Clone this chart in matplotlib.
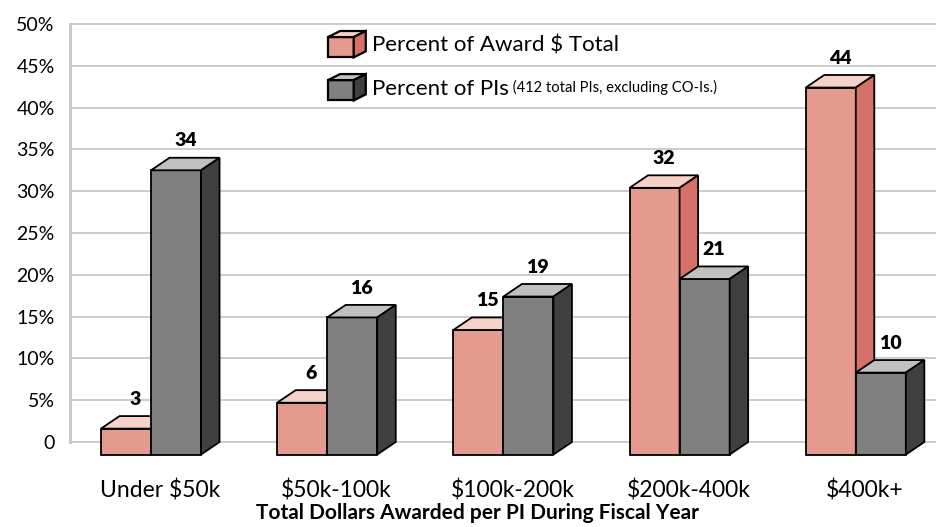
import matplotlib
matplotlib.use("Agg")
import matplotlib.pyplot as plt
from matplotlib.patches import Polygon, Patch
from matplotlib.legend_handler import HandlerBase

plt.rcParams['font.family'] = ['Lato', 'DejaVu Sans']

# data
categories = ['Under $50k', '$50k-100k', '$100k-200k', '$200k-400k', '$400k+']
award_pct = [3.1, 6.2, 14.9, 31.9, 43.9]
pi_pct = [34.0, 16.4, 18.9, 21.0, 9.8]

pink = ('#E49A8C', '#F6D1C8', '#D6706A')   # front, top, side
grey = ('#808080', '#C0C0C0', '#404040')

W = 0.284     # bar width (category units)
DX = 0.105    # depth offset, x
DY = 1.5      # depth offset, y (percent)


def cube(ax, x0, v, colors):
    front, top, side = colors
    kw = dict(edgecolor='black', lw=1.3, joinstyle='miter', zorder=3)
    ax.add_patch(Polygon([(x0, -DY), (x0 + W, -DY), (x0 + W, v - DY), (x0, v - DY)],
                         facecolor=front, **kw))
    ax.add_patch(Polygon([(x0, v - DY), (x0 + W, v - DY), (x0 + W + DX, v), (x0 + DX, v)],
                         facecolor=top, **kw))
    ax.add_patch(Polygon([(x0 + W, -DY), (x0 + W + DX, 0), (x0 + W + DX, v), (x0 + W, v - DY)],
                         facecolor=side, **kw))
    ax.annotate(f'{round(v)}', xy=(x0 + W / 2 + DX / 2, v), xytext=(0, 6),
                textcoords='offset points', ha='center', va='bottom',
                fontsize=14, fontweight='heavy')


class CubeHandler(HandlerBase):
    def __init__(self, colors):
        super().__init__()
        self.colors = colors

    def create_artists(self, legend, orig_handle, xdescent, ydescent, width, height,
                       fontsize, trans):
        x0, y0 = -xdescent, -ydescent
        fw, fh = width * 0.68, height * 0.77
        ddx, ddy = width - fw, height - fh
        front, top, side = self.colors
        kw = dict(edgecolor='black', lw=1.6, joinstyle='miter', transform=trans)
        return [
            Polygon([(x0, y0), (x0 + fw, y0), (x0 + fw, y0 + fh), (x0, y0 + fh)], facecolor=front, **kw),
            Polygon([(x0, y0 + fh), (x0 + fw, y0 + fh), (x0 + width, y0 + height), (x0 + ddx, y0 + height)],
                    facecolor=top, **kw),
            Polygon([(x0 + fw, y0), (x0 + width, y0 + ddy), (x0 + width, y0 + height), (x0 + fw, y0 + fh)],
                    facecolor=side, **kw),
        ]


fig = plt.figure(figsize=(9.37, 5.27), dpi=100)
ax = fig.add_axes([70 / 937, (527 - 460) / 527, (937 - 70) / 937, 440 / 527])

for i, (a, p) in enumerate(zip(award_pct, pi_pct)):
    cube(ax, i - W, a, pink)
    cube(ax, i, p, grey)

ax.set_xlim((70 - 151) / 176.2, (937 - 151) / 176.2)
ax.set_ylim(-(460 - 442) / 8.36, (442 - 20) / 8.36)

ax.set_yticks(range(0, 51, 5))
ax.set_yticklabels(['0'] + [f'{t}%' for t in range(5, 51, 5)])
ax.set_xticks([i + DX / 2 for i in range(len(categories))])
ax.set_xticklabels(categories)
ax.tick_params(axis='y', length=0, pad=11, labelsize=14)
ax.tick_params(axis='x', length=0, pad=14, labelsize=16.5)

ax.yaxis.grid(True, color='#C8C8C8', lw=1.3)
ax.set_axisbelow(True)
for s in ['top', 'right', 'bottom']:
    ax.spines[s].set_visible(False)
ax.spines['left'].set_bounds(0, 50)
ax.spines['left'].set_color('#C8C8C8')
ax.spines['left'].set_linewidth(2.2)

fig.text(478 / 937, 1 - 513 / 527, 'Total Dollars Awarded per PI During Fiscal Year',
         ha='center', va='center', fontsize=15, fontweight='bold')

h1, h2 = Patch(), Patch()
leg = ax.legend([h1, h2], ['Percent of Award $ Total', 'Percent of PIs'],
                handler_map={h1: CubeHandler(pink), h2: CubeHandler(grey)},
                loc='upper left', bbox_to_anchor=(328 / 937, 1 - 31 / 527),
                bbox_transform=fig.transFigure, frameon=False, fontsize=16,
                handlelength=1.7, handleheight=1.45, handletextpad=0.3,
                labelspacing=0.75, borderpad=0, borderaxespad=0)
ax.annotate(' (412 total PIs, excluding CO-Is.)', xy=(1, 0.18), xycoords=leg.get_texts()[1],
            ha='left', va='bottom', fontsize=10.6, zorder=10)

fig.savefig('out.png', dpi=100)
